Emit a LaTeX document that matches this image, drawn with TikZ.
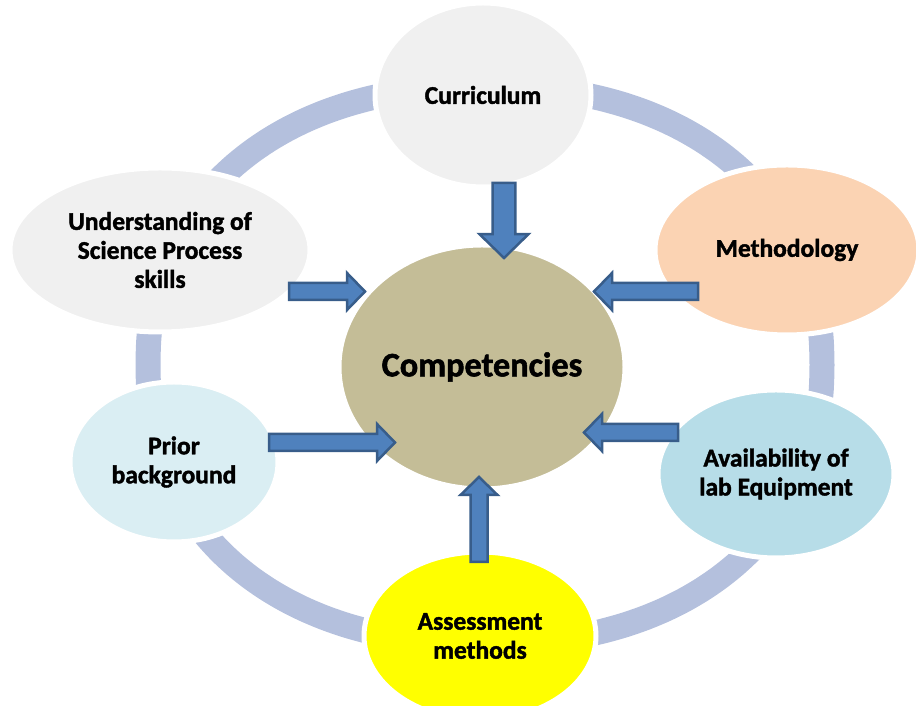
\documentclass[tikz,border=0pt]{standalone}
\usepackage{fontspec}
\setmainfont{Carlito}[BoldFeatures={FakeBold=1.6}]
\usepackage{tikz}
\usetikzlibrary{shapes.geometric, calc}

\definecolor{ringblue}{RGB}{180,192,221}
\definecolor{arrowblue}{HTML}{4F81BD}
\definecolor{arrowdark}{HTML}{385D8A}
\definecolor{compfill}{HTML}{C4BD97}
\definecolor{greyfill}{HTML}{F0F0F0}
\definecolor{peachfill}{HTML}{FBD3B3}
\definecolor{priorfill}{HTML}{DAEEF3}
\definecolor{availfill}{HTML}{B7DDE8}
\definecolor{assessfill}{HTML}{FFFF00}

\tikzset{
  topic/.style={ellipse, draw=white, line width=0.1cm, align=center, inner sep=0pt, outer sep=0pt,
    font=\bfseries\fontsize{14.5}{16.5}\selectfont},
  ring/.style={ringblue, line width=0.5cm},
  fatarrow/.style={fill=arrowblue, draw=arrowdark, line width=0.05cm, line join=miter}
}

% block arrow from #2 to #3, #1 scales shaft and head
\newcommand{\blockarrow}[3][1]{%
  \path (#2) coordinate (ba-s) (#3) coordinate (ba-e);
  \coordinate (ba-b) at ($(ba-e)!#1*0.36cm!(ba-s)$);
  \filldraw[fatarrow]
    ($(ba-s)!#1*0.17cm!90:(ba-e)$) -- ($(ba-b)!#1*0.17cm!90:(ba-e)$)
    -- ($(ba-b)!#1*0.37cm!90:(ba-e)$) -- (ba-e)
    -- ($(ba-b)!#1*0.37cm!-90:(ba-e)$) -- ($(ba-b)!#1*0.17cm!-90:(ba-e)$)
    -- ($(ba-s)!#1*0.17cm!-90:(ba-e)$) -- cycle;
}

\begin{document}
\begin{tikzpicture}
	\useasboundingbox (0,0) rectangle (18.32,14.12);
	\clip (0,0) rectangle (18.32,14.12);
	
	% the ring behind the circle of topics
	\draw[ring] plot[domain=0:356, samples=90, smooth cycle]
		({9.70+6.74*cos(\x)*pow(abs(cos(\x))+0.0001,-0.0909)},
		 {6.82+5.58*sin(\x)*pow(abs(sin(\x))+0.0001,-0.0909)});
	
	% Define the nodes
	\node (comp) [topic, fill=compfill, minimum width=5.72cm, minimum height=4.88cm,
		font=\bfseries\fontsize{19.5}{23}\selectfont] at (9.64,6.78) {Competencies};
	\node (curr) [topic, fill=greyfill, minimum width=4.32cm, minimum height=3.68cm] at (9.66,12.22) {Curriculum};
	\node (under) [topic, fill=greyfill, minimum width=6.00cm, minimum height=3.28cm] at (3.20,9.12) {Understanding of\\Science Process\\skills};
	\node (meth) [topic, fill=peachfill, minimum width=5.28cm, minimum height=3.40cm] at (15.74,9.12) {Methodology};
	\node (prior) [topic, fill=priorfill, minimum width=4.16cm, minimum height=3.20cm] at (3.48,4.88) {Prior\\background};
	\node (avail) [topic, fill=availfill, minimum width=4.72cm, minimum height=3.36cm] at (15.52,4.64) {Availability of\\lab Equipment};
	\node (assess) [topic, fill=assessfill, minimum width=4.64cm, minimum height=3.36cm] at (9.60,1.40) {Assessment\\methods};
	
	% Connect the topics to the centre
	\blockarrow[1.33]{$(curr.south)+(0.42,0.08)$}{$(comp.north)+(0.44,-0.26)$}
	\blockarrow{$(under.east)+(-0.42,-0.83)$}{$(comp.west)+(0.52,1.51)$}
	\blockarrow{$(meth.west)+(0.86,-0.83)$}{$(comp.east)+(-0.62,1.51)$}
	\blockarrow{$(prior.east)+(-0.18,0.39)$}{$(comp.west)+(1.12,-1.51)$}
	\blockarrow{$(avail.west)+(0.40,0.83)$}{$(comp.east)+(-0.82,-1.31)$}
	\blockarrow{$(assess.north)+(-0.02,-0.20)$}{$(comp.south)+(-0.06,0.24)$}
\end{tikzpicture}
\end{document}
